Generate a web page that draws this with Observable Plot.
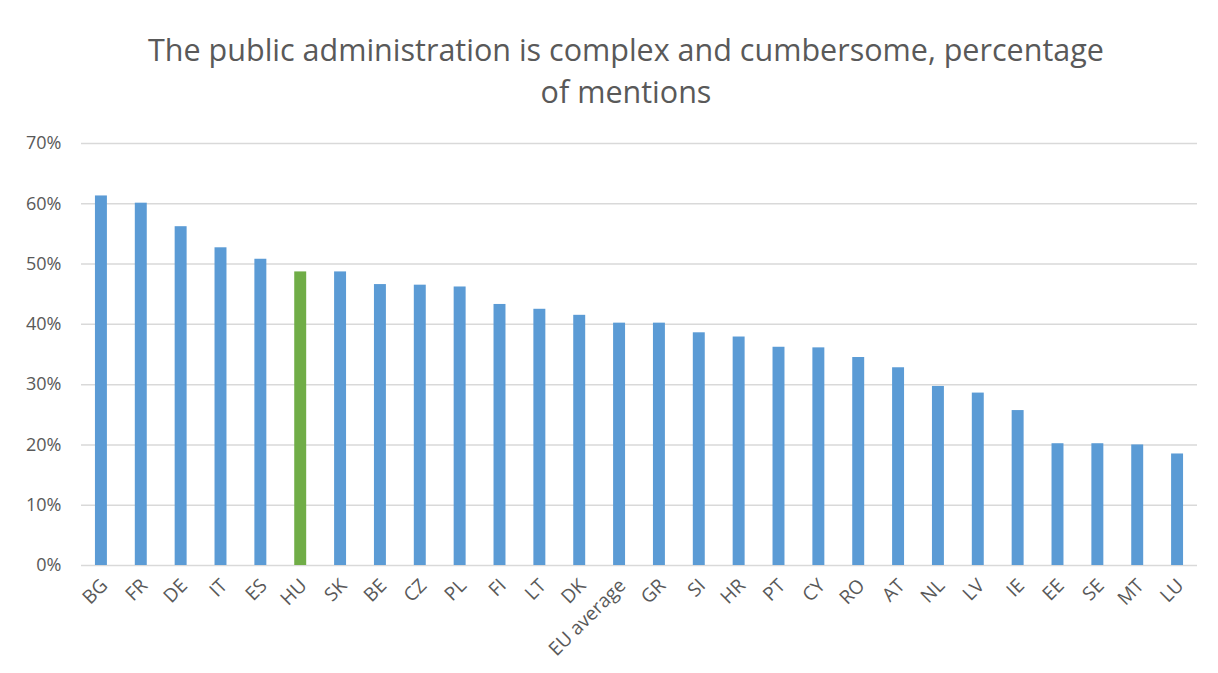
<!DOCTYPE html>
<html>
<head>
<meta charset="utf-8">
<script src="https://cdn.jsdelivr.net/npm/d3@7"></script>
<script src="https://cdn.jsdelivr.net/npm/@observablehq/plot@0.6"></script>
<style>
  html, body { margin: 0; padding: 0; background: #fff; }
  #chart { width: 1218px; height: 673px; position: relative; }
  #title {
    height: 120px;
    box-sizing: border-box;
    padding-top: 28px;
    text-align: center;
    font-family: "Open Sans", sans-serif;
    font-size: 30.5px;
    line-height: 42px;
    color: #595959;
    transform: translateX(17px);
  }
  #title div { white-space: nowrap; }
</style>
</head>
<body>
<div id="chart">
  <div id="title">
    <div>The public administration is complex and cumbersome, percentage</div>
    <div>of mentions</div>
  </div>
  <div id="plot"></div>
</div>
<script>
// Share of respondents naming complex, cumbersome public administration
const countries = ["BG", "FR", "DE", "IT", "ES", "HU", "SK", "BE", "CZ", "PL", "FI", "LT", "DK",
  "EU average", "GR", "SI", "HR", "PT", "CY", "RO", "AT", "NL", "LV", "IE", "EE", "SE", "MT", "LU"];
const shares = [0.613, 0.601, 0.562, 0.527, 0.508, 0.487, 0.487, 0.466, 0.465, 0.462, 0.433, 0.425,
  0.415, 0.402, 0.402, 0.386, 0.379, 0.362, 0.361, 0.345, 0.328, 0.297, 0.286, 0.257, 0.202, 0.202,
  0.200, 0.185];
const highlighted = ["HU"];
const yTicks = [0, 0.1, 0.2, 0.3, 0.4, 0.5, 0.6, 0.7];

const blue = "#5b9bd5";
const green = "#70ad47";
const textColor = "#595959";

const rows = countries.map((c, i) => ({
  country: c,
  share: shares[i],
  group: highlighted.includes(c) ? "highlight" : "other"
}));

const chart = Plot.plot({
  width: 1218,
  height: 553,
  marginTop: 23,
  marginBottom: 108,
  marginLeft: 81,
  marginRight: 21,
  style: { fontFamily: "'Open Sans', sans-serif", color: textColor, background: "#fff" },
  // each category owns a full step; the bar sits centred in it
  x: { domain: countries, paddingInner: 0.7, paddingOuter: 0.35, round: false, label: null },
  y: { domain: [0, 0.7], label: null },
  color: { domain: ["other", "highlight"], range: [blue, green] },
  marks: [
    Plot.gridY(yTicks, { stroke: "#d9d9d9", strokeOpacity: 1, strokeWidth: 1.5 }),
    Plot.barY(rows, { x: "country", y: "share", fill: "group" }),
    Plot.axisY(yTicks, {
      tickSize: 0,
      tickPadding: 20,
      tickFormat: d => Math.round(d * 100) + "%",
      fontSize: 18,
      fill: textColor,
      label: null
    }),
    Plot.axisX({
      tickSize: 0,
      tickPadding: 17,
      dx: 3,
      tickRotate: -45,
      fontSize: 19,
      fill: textColor,
      label: null
    })
  ]
});

document.getElementById("plot").appendChild(chart);
</script>
</body>
</html>
